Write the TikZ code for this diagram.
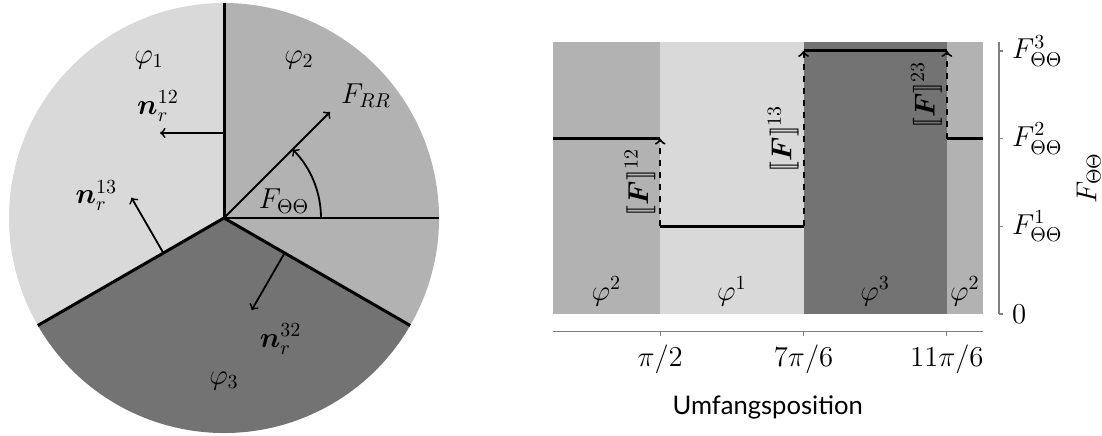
\documentclass[tikz,border=0pt]{standalone}
\usepackage{amsmath}
\usepackage{fontspec}
\newfontfamily\axisfont{Lato}

\colorlet{phaseone}{black!15}
\colorlet{phasetwo}{black!30}
\colorlet{phasethree}{black!55}

\begin{document}
\begin{tikzpicture}[x=0.5pt, y=0.5pt,
    boundary/.style={line width=1.5pt},
    vec/.style={->, line width=0.9pt},
    lbl/.style={font=\Large},
    level/.style={line width=1.5pt},
    jump/.style={->, dashed, line width=1pt},
    axisline/.style={gray, line width=0.6pt},
    jumplbl/.style={midway, rotate=90, anchor=south, inner sep=2pt}
]
    \useasboundingbox (0,0) rectangle (1102,435);

    % pie with the three phases
    \coordinate (c) at (224,217);
    \fill[phaseone]   (c) -- ++(90:215)  arc (90:210:215)  -- cycle;
    \fill[phasethree] (c) -- ++(210:215) arc (210:330:215) -- cycle;
    \fill[phasetwo]   (c) -- ++(330:215) arc (330:450:215) -- cycle;

    \draw[line width=0.6pt] (c) -- ++(0:215);
    \draw[boundary] (c) -- ++(90:215);
    \draw[boundary] (c) -- ++(210:215);
    \draw[boundary] (c) -- ++(330:215);

    \path (c) ++(90:85)  coordinate (n12s) ++(180:64) coordinate (n12e);
    \path (c) ++(210:70) coordinate (n13s) ++(120:64) coordinate (n13e);
    \path (c) ++(330:70) coordinate (n32s) ++(240:66) coordinate (n32e);
    \path (c) ++(45:150) coordinate (frr);
    \path (c) ++(0:97)   coordinate (arcs);

    \draw[vec] (n12s) -- (n12e);
    \draw[vec] (n13s) -- (n13e);
    \draw[vec] (n32s) -- (n32e);
    \draw[vec] (c) -- (frr);
    \draw[vec] (arcs) arc (0:45:97);

    \node[lbl] (l12) at ([shift={(-2,27)}]n12e)  {$\boldsymbol{n}_r^{12}$};
    \node[lbl] (l13) at ([shift={(-35,2)}]n13e)  {$\boldsymbol{n}_r^{13}$};
    \node[lbl] (l32) at ([shift={(29,-29)}]n32e) {$\boldsymbol{n}_r^{32}$};
    \node[lbl] (lrr) at ([shift={(36,16)}]frr)   {$F_{RR}$};
    \node[lbl] (ltt) at ([shift={(60,17)}]c)     {$F_{\Theta\Theta}$};

    \node[lbl] (ph1) at ([shift={(-75,158)}]c) {$\varphi_1$};
    \node[lbl] (ph2) at ([shift={(75,158)}]c)  {$\varphi_2$};
    \node[lbl] (ph3) at ([shift={(0,-163)}]c)  {$\varphi_3$};

    % jump of F along the circumference
    \begin{scope}[shift={(552.7,121)}, xscale=68.44, yscale=87.7, font=\Large]
        \fill[phasetwo]   (0,0)         rectangle ({pi/2},3.1);
        \fill[phaseone]   ({pi/2},0)    rectangle ({7*pi/6},3.1);
        \fill[phasethree] ({7*pi/6},0)  rectangle ({11*pi/6},3.1);
        \fill[phasetwo]   ({11*pi/6},0) rectangle ({2*pi},3.1);

        \node (r2a) at ({pi/4},0.26)     {$\varphi^2$};
        \node (r1)  at ({5*pi/6},0.26)   {$\varphi^1$};
        \node (r3)  at ({3*pi/2},0.26)   {$\varphi^3$};
        \node (r2b) at ({23*pi/12},0.26) {$\varphi^2$};

        \draw[level] (0,2)         -- ({pi/2},2);
        \draw[level] ({pi/2},1)    -- ({7*pi/6},1);
        \draw[level] ({7*pi/6},3)  -- ({11*pi/6},3);
        \draw[level] ({11*pi/6},2) -- ({2*pi},2);

        \draw[jump] ({pi/2},1) -- ({pi/2},2)
            node[jumplbl] (j12) {$[\![\boldsymbol{F}]\!]^{12}$};
        \draw[jump] ({7*pi/6},1) -- ({7*pi/6},3)
            node[jumplbl] (j13) {$[\![\boldsymbol{F}]\!]^{13}$};
        \draw[jump] ({11*pi/6},2) -- ({11*pi/6},3)
            node[jumplbl] (j23) {$[\![\boldsymbol{F}]\!]^{23}$};

        % axes
        \draw[axisline] (0,-0.2) -- ({2*pi},-0.2);
        \foreach \k/\lab in {3/{$\pi/2$}, 7/{$7\pi/6$}, 11/{$11\pi/6$}}
            \draw[axisline] ({\k*pi/6},-0.2) -- ++(0,-0.046)
                node[below=1pt, black] (xt\k) {\lab};
        \node[font=\fontsize{12.8}{15}\axisfont] (xlab) at ({pi},-1.07) {Umfangsposition};

        \draw[axisline] (6.52,0) -- (6.52,3.1);
        \foreach \v/\lab in {0/{$0$}, 1/{$F_{\Theta\Theta}^1$}, 2/{$F_{\Theta\Theta}^2$}, 3/{$F_{\Theta\Theta}^3$}}
            \draw[axisline] (6.52,\v) -- ++(0.058,0)
                node[right=1pt, black] (yt\v) {\lab};
        \node[rotate=90] (ylab) at (7.83,1.55) {$F_{\Theta\Theta}$};
    \end{scope}
\end{tikzpicture}
\end{document}
